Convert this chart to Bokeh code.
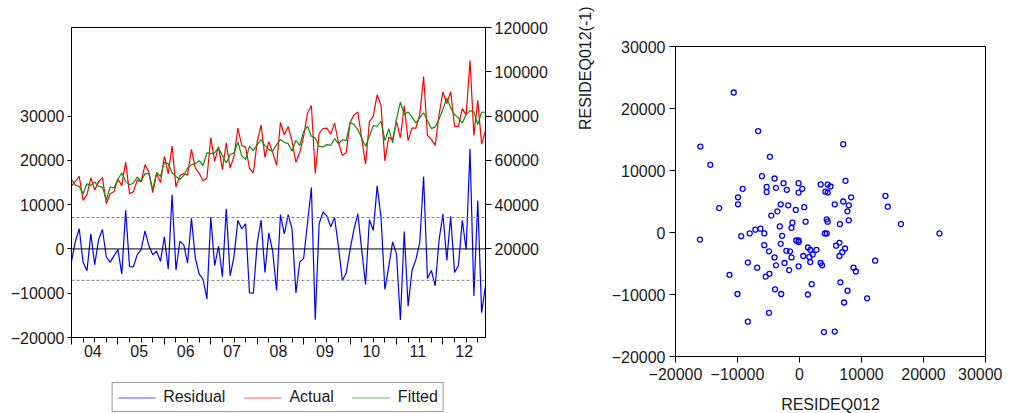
from bokeh.plotting import figure
from bokeh.models import (Range1d, LinearAxis, FixedTicker, BasicTickFormatter,
                          CustomJSTickFormatter, Span, Legend, Title)
from bokeh.embed import file_html
from bokeh.resources import INLINE

# ---------------- data (monthly, 2004M01 .. 2012M12) ----------------
months = list(range(108))

residual = [
    -2800, 1740, 4550, -3030, -4920, 3410, -3560, 2120, 4390, -1820, -3030, -1520,
    -150, -5680, 8710, -4020, -4020, -1290, -150, 4090, 760, -1290, -530, -2800,
    2730, -4550, 12200, -4770, 1740, 980, -3180, 6890, -2050, -5680, -6820, -11290,
    7200, -3790, 610, -6290, 9090, -6060, -1670, 6440, 4550, 5680, -9920, -10000,
    1360, 6520, -5300, 3640, -600, -9390, 7750, 3410, 7730, 4550, -9920, -2950,
    -2120, 5900, 13860, -15980, 5680, 8330, 7420, 5000, 7050, 450, -7120, -5450,
    -150, 4390, 7950, -150, -8030, 6590, 4170, 14240, 7050, -9170, -3940, 1590,
    -1140, -16060, 3940, -12950, -4920, -2420, 1360, 16360, -6670, -4850, -8330, 1970,
    7950, -2580, 7350, -5300, -3790, 6440, -150, 22580, -10610, 10910, -14390, -8330,
]

fitted = [
    51270, 48710, 48260, 44940, 49460, 48710, 50220, 48260, 47800, 42220, 47960, 47500,
    51570, 54290, 50520, 49010, 49770, 52480, 50520, 53990, 53990, 46750, 54590, 52780,
    59110, 58510, 54290, 52780, 51270, 53080, 56500, 58060, 58510, 59870, 57610, 63340,
    63030, 63340, 65600, 62130, 58810, 62580, 63340, 68160, 62130, 60320, 66350, 64390,
    67110, 69370, 66650, 64840, 64090, 67110, 69370, 68160, 67560, 64090, 69070, 66650,
    73000, 75400, 70880, 70120, 66350, 66050, 67110, 66800, 69820, 67500, 69370, 68920,
    77210, 76150, 73890, 70120, 66350, 70880, 75700, 75400, 77660, 68920, 74350, 67860,
    78720, 86260, 80680, 81890, 79620, 76910, 79170, 81500, 77960, 74350, 75100, 78720,
    82940, 88220, 83690, 80680, 79170, 76910, 80680, 82490, 81890, 76150, 81730, 81730,
]

actual = [
    48470, 50450, 52810, 41910, 44540, 52120, 46660, 50380, 52190, 40400, 44930, 45980,
    51420, 48610, 59230, 44990, 45750, 51190, 50370, 58080, 54750, 45460, 54060, 49980,
    61840, 53960, 66490, 48010, 53010, 54060, 53320, 64950, 56460, 54190, 50790, 52050,
    70230, 59550, 66210, 55840, 67900, 56520, 61670, 74600, 66680, 66000, 56430, 54390,
    68470, 75890, 61350, 68480, 63490, 57720, 77120, 71570, 75290, 68640, 59150, 63700,
    70880, 81300, 84740, 54140, 72030, 74380, 74530, 71800, 76870, 67950, 62250, 63470,
    77060, 80540, 81840, 69970, 58320, 77470, 79870, 89640, 84710, 59750, 70410, 69450,
    77580, 70200, 84620, 68940, 74700, 74490, 80530, 97860, 71290, 69500, 66770, 80690,
    90890, 85640, 91040, 75380, 75380, 83350, 80530, 105070, 71280, 87060, 67340, 73400,
]

series_names = ["Residual", "Actual", "Fitted"]
year_labels = ["04", "05", "06", "07", "08", "09", "10", "11", "12"]
left_ticks = [-20000, -10000, 0, 10000, 20000, 30000]
right_ticks = [20000, 40000, 60000, 80000, 100000, 120000]
scatter_ticks = [-20000, -10000, 0, 10000, 20000, 30000]
se_band = 7100  # +/- one standard error of regression

FONT = "Liberation Sans"
FS = "16px"
TXT = "#1a1a1a"
C_RES, C_ACT, C_FIT = "#0000ff", "#ff0000", "#138a13"


def style_axis(ax, tick_out=5):
    ax.axis_line_color = "black"
    ax.major_tick_line_color = "black"
    ax.major_tick_in = 0
    ax.major_tick_out = tick_out
    ax.minor_tick_line_color = None
    ax.major_label_text_font = FONT
    ax.major_label_text_font_size = FS
    ax.major_label_text_color = TXT


# ---------------- left panel: residual / actual / fitted ----------------
p = figure(frame_width=414, frame_height=310,
           x_range=Range1d(months[0], months[-1]),
           y_range=Range1d(-20000, 50000),
           x_axis_location=None, y_axis_location=None,
           toolbar_location=None, output_backend="svg",
           min_border_left=71, min_border_top=27, min_border_right=80,
           min_border_bottom=0)
p.extra_y_ranges = {"right": Range1d(-20000, 120000)}
p.xgrid.visible = False
p.ygrid.visible = False
p.outline_line_color = "black"

ly = LinearAxis(ticker=FixedTicker(ticks=left_ticks),
                formatter=BasicTickFormatter(use_scientific=False))
style_axis(ly, 4)
ly.major_label_standoff = 3
p.add_layout(ly, "left")

ry = LinearAxis(y_range_name="right", ticker=FixedTicker(ticks=right_ticks),
                formatter=BasicTickFormatter(use_scientific=False))
style_axis(ry, 6)
ry.major_label_standoff = 3
p.add_layout(ry, "right")

year_starts = [m for m in months if m % 12 == 0]
quarter_ticks = [m for m in months if m % 3 == 0]
year_mids = [m + 5.5 for m in year_starts]

xt = LinearAxis(ticker=FixedTicker(ticks=year_starts, minor_ticks=quarter_ticks),
                formatter=CustomJSTickFormatter(code="return '';"))
style_axis(xt, 7)
xt.minor_tick_line_color = "black"
xt.minor_tick_in = 0
xt.minor_tick_out = 5
xt.major_label_text_font_size = "1px"
xt.major_label_standoff = 0
p.add_layout(xt, "below")

xl = LinearAxis(ticker=FixedTicker(ticks=year_mids),
                formatter=CustomJSTickFormatter(args=dict(labels=year_labels),
                                                code="return labels[Math.round((tick - 5.5) / 12)];"))
style_axis(xl, 0)
xl.axis_line_color = None
xl.major_tick_line_color = None
xl.major_label_standoff = 0
p.add_layout(xl, "below")

p.add_layout(Span(location=0, dimension="width", line_color="black", line_width=1))
p.add_layout(Span(location=se_band, dimension="width", line_color="#808080",
                  line_width=1, line_dash="3 2"))
p.add_layout(Span(location=-se_band, dimension="width", line_color="#808080",
                  line_width=1, line_dash="3 2"))

p.line(months, residual, line_color=C_RES, line_width=1.2)
p.line(months, actual, line_color=C_ACT, line_width=1.2, y_range_name="right")
p.line(months, fitted, line_color=C_FIT, line_width=1.2, y_range_name="right")

# ---------------- legend box under the left panel ----------------
pl = figure(frame_width=345, frame_height=32, min_border=0,
            x_axis_location=None, y_axis_location=None,
            toolbar_location=None, output_backend="svg")
pl.xgrid.visible = False
pl.ygrid.visible = False
pl.outline_line_color = None
pl.styles = {"position": "absolute", "left": "105px", "top": "381px"}
lr_res = pl.line(months, residual, line_color=C_RES, line_alpha=0.65, visible=False)
lr_act = pl.line(months, actual, line_color=C_ACT, line_alpha=0.65, visible=False)
lr_fit = pl.line(months, fitted, line_color=C_FIT, line_alpha=0.65, visible=False)
legend = Legend(items=list(zip(series_names, [[lr_res], [lr_act], [lr_fit]])),
                orientation="horizontal", location="center",
                label_text_font=FONT, label_text_font_size=FS, label_text_color=TXT,
                glyph_width=38, glyph_height=13, label_height=13,
                label_standoff=8, spacing=18, padding=5, margin=0,
                border_line_color="#333333", border_line_width=1,
                background_fill_color="white", background_fill_alpha=1)
pl.add_layout(legend, "center")

# ---------------- right panel: residual vs lagged residual ----------------
p2 = figure(frame_width=310, frame_height=310,
            x_range=Range1d(-20000, 30000), y_range=Range1d(-20000, 30000),
            x_axis_location=None, y_axis_location=None,
            toolbar_location=None, output_backend="svg",
            min_border_left=109, min_border_top=46, min_border_right=17,
            min_border_bottom=0)
p2.xgrid.visible = False
p2.ygrid.visible = False
p2.outline_line_color = "black"
p2.styles = {"position": "absolute", "left": "559px", "top": "0px"}

sx = LinearAxis(ticker=FixedTicker(ticks=scatter_ticks),
                formatter=BasicTickFormatter(use_scientific=False))
style_axis(sx, 6)
sx.major_label_standoff = 5
p2.add_layout(sx, "below")

sy = LinearAxis(ticker=FixedTicker(ticks=scatter_ticks),
                formatter=BasicTickFormatter(use_scientific=False))
style_axis(sy, 6)
sy.major_label_standoff = 4
p2.add_layout(sy, "left")

p2.scatter(x=residual[1:], y=residual[:-1], marker="circle", size=5,
           fill_color=None, line_color=C_RES, line_width=1.3)

p2.add_layout(Title(text="RESIDEQ012", align="center", standoff=22,
                    text_font=FONT, text_font_size=FS, text_font_style="normal",
                    text_color=TXT), "below")
p2.add_layout(Title(text="RESIDEQ012(-1)", align="right", offset=-40, standoff=30,
                    text_font=FONT, text_font_size=FS, text_font_style="normal",
                    text_color=TXT), "left")

open("out.html", "w").write(file_html([p, p2, pl], INLINE))
